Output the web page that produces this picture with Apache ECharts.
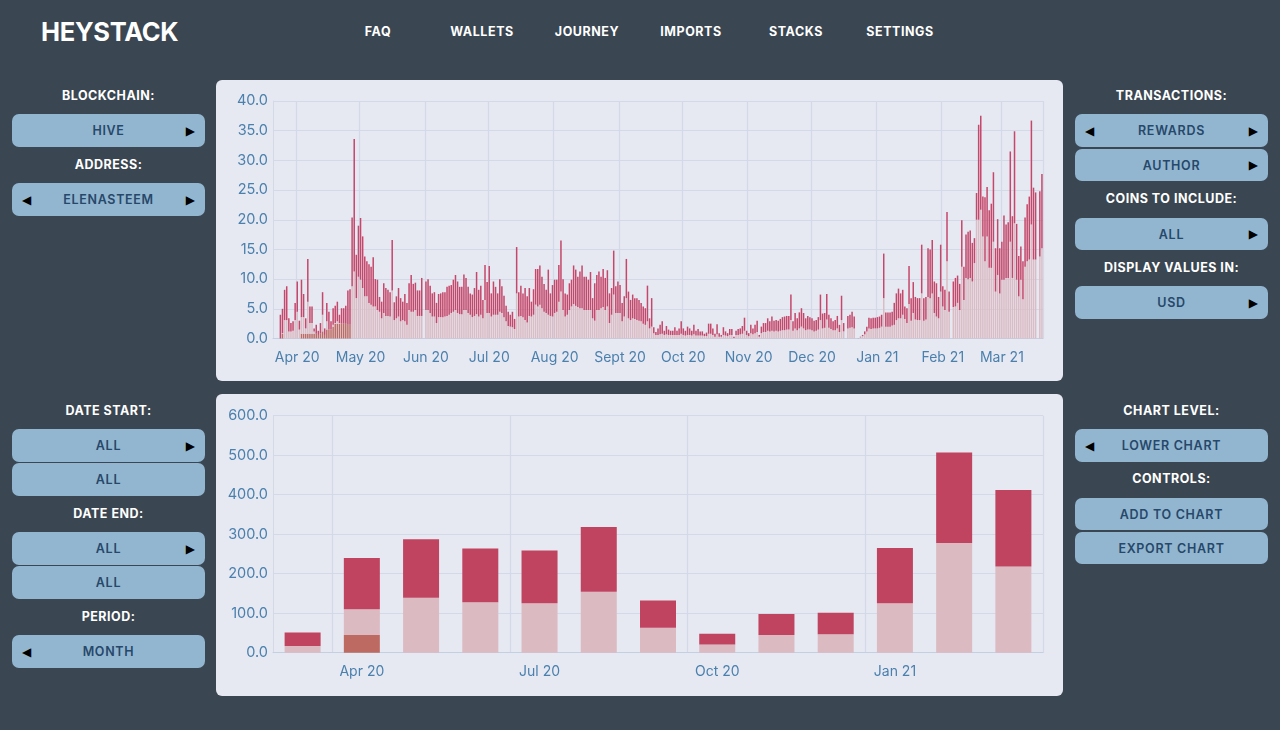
<!DOCTYPE html>
<html><head><meta charset="utf-8">
<script src="https://cdn.jsdelivr.net/npm/echarts@6/dist/echarts.min.js"></script>
<style>
html,body{margin:0;padding:0;width:1280px;height:730px;overflow:hidden;background:#3a4651;font-family:Inter,"Liberation Sans",sans-serif;}
.abs{position:absolute}
.logo{left:41px;top:16px;color:#fff;font-size:25.5px;font-weight:700;line-height:32px;letter-spacing:-.3px}
.nav{top:24px;color:#fff;font-size:12.5px;font-weight:700;line-height:16px;letter-spacing:.55px;transform:translateX(-50%)}
.lbl{color:#fff;font-size:12.5px;font-weight:700;line-height:16px;letter-spacing:.5px;text-align:center;width:193px}
.btn{width:193px;background:#93b6d0;border-radius:7px;color:#26486a;font-size:12.5px;font-weight:600;text-align:center;letter-spacing:.7px}
.arr{position:absolute;top:0;color:#000;font-family:"DejaVu Sans";font-size:12px;letter-spacing:0}
.card{left:216px;width:847px;background:#e6e8f2;border-radius:6px}
</style></head><body>
<div id="ui"></div>
<div class="abs card" id="c1" style="top:80px;height:301px"></div>
<div class="abs card" id="c2" style="top:394px;height:302px"></div>
<script>
var dailyTotal=[
null,null,null,4.0,5.0,8.2,8.8,3.4,2.6,2.9,
6,9.6,3,9.9,7.5,3.4,13.4,5.4,5.4,1.7,
2.3,1.3,2.6,7.8,1.7,6,4.5,2.9,5.1,5.5,
6.2,4,5.1,5.1,5.5,8.1,8.3,20.4,33.6,14.1,
19,20.3,17.2,13.8,13,12.5,12.1,13.7,10,9.9,
7,6.2,9.3,8.5,8.2,7.8,16.6,6.1,7.1,8.5,
6.8,6.2,7.5,6,9.3,10.7,9.2,9.4,8.1,8.1,
10.2,null,9.6,10,8.9,7.6,7.8,6,7.5,7.6,
7.8,7.8,8.7,8.9,9,9.9,10.7,9.6,8.7,8.7,
10.8,10.2,8.7,7.6,7.4,8.5,11.2,8.2,8.9,6.5,
12.4,9.5,12.2,7.6,9.6,8.7,7.6,10,8.8,7.2,
5.5,4.5,4,4.5,3.3,15.4,7.8,8.9,7.6,8.5,
7.1,8.5,6.2,8.3,11.7,11.7,12.3,10.4,9.2,8.2,
11.6,7.6,9,9.9,9.9,12.4,16.5,10,7.6,7.4,
9.3,9.9,12.3,11.6,10.4,11.3,12.3,10.4,10.4,9.9,
11.2,6.8,9.3,10.7,11.3,10.4,11.7,10.2,11.5,7.6,
8.5,14.8,8.8,9.6,9,6,7.1,13.4,7.9,6.5,
7.4,6.8,6.8,6.5,6,5.4,5.1,8.9,3.4,6.8,
1.9,1.1,1.7,2.3,2.9,1.3,2.1,1.5,1.3,1.3,
1.9,1.3,1.7,2.9,1.7,1.3,2,1.7,1.3,2.3,
1.3,1.6,1.2,1.2,.8,1,2.5,2.5,1.7,.8,
2.4,.9,.6,1.9,1.2,.9,1.6,1.6,.3,1.3,
1.6,1.7,2.1,3.5,1.3,.9,2.3,1.7,2.3,3,
.6,2,2.6,2.6,3.4,2.9,3.7,3,3.1,3,
3.3,3.6,3.7,3.8,3.8,7.4,2.9,4.3,3.4,4.4,
5.1,4.3,3.4,3.8,3.6,3.4,3,3.1,3.6,7.4,
4.2,4.3,7.5,4,3.4,2.9,3.1,3.8,2.3,7.2,
2.6,null,3.8,4,4.5,3.7,null,.05,.3,.6,
1.2,2,3.5,3.4,3.5,3.5,3.6,3.7,4,14.3,
4.4,4.4,4.4,4.5,6,7.6,8.4,7.6,8.2,5.4,
5.1,12.2,6.8,9.5,7,6.8,6.8,15.8,6.8,7,
15.2,15,16.6,9.6,9.3,7,15.8,8.8,8.2,21.3,
7.9,null,9.6,10.2,10.6,9.2,19.9,12.1,17.5,18,
18.2,16.1,16.9,24.5,36,37.5,23.9,23.8,25.5,21.6,
22.7,28,15.2,20.1,15.2,16.3,20.7,19.2,19.6,31.5,
20.6,34.9,19.3,13.9,15.5,13,20.4,22.6,23.9,36.7,
25.4,24.6,null,24.8,27.7];
var dailyBase=[
null,null,null,0,.9,3.1,3.1,1.2,1.2,1.3,
3.1,4.5,1.5,3.6,3.6,1.7,6.2,2.6,2.6,1.2,
.8,.6,.9,4,.6,2.9,1.5,1.5,2.3,2.6,
2.9,2.6,2.5,2.5,2.6,2.3,2.3,8.8,11.3,6.8,
10.4,9.9,8.5,7.1,7.1,6,5.7,5.4,5.4,4.8,
4.5,3.4,4.3,3.8,3.8,3.7,8.1,3.1,3.4,3.7,
2.9,3.1,2.9,2.3,4.8,4.5,4.5,4.8,3.8,3.8,
3.8,null,4.8,4.8,4.3,3.7,3.7,2.6,3.6,3.6,
3.6,3.7,3.8,4,4.3,4.5,4.8,4.3,4.1,4.1,
4.8,4.8,4.3,4,3.6,3.8,4.1,3.7,4,3.4,
6.5,4.3,4.3,3.7,4,4,4,4.5,4.3,3.6,
2.9,2.1,2,1.9,1.6,7.6,3.7,3.8,3.6,3.1,
2.7,3.8,3.7,4,5.7,5.4,5.7,5.1,4.5,4.3,
4,3.8,3.7,4.3,4.5,6.2,7.9,4.8,3.7,4,
4.8,5.4,5.8,5.5,5.3,5.1,5.1,4.8,4.8,4.8,
4.8,3.4,3,4.8,4.8,5.1,5.3,4.8,5.4,2.6,
4,7.4,4.3,4.3,4.3,2.9,3.7,6.8,3.4,3.1,
3.4,3.3,3.1,3,2.9,2.5,2.3,2.9,1.7,2,
.9,.6,.6,.7,.8,.6,.7,.6,.6,.6,
.6,.6,.6,.8,.6,.5,.6,.6,.5,.7,
.5,.5,.5,.5,.4,.4,.8,.8,.6,.3,
.7,.3,.3,.6,.5,.4,.6,.6,.1,.6,
.6,.7,.8,1.3,.6,.4,.9,.7,.9,1.1,
.3,.9,1.1,1.1,1.3,1.2,1.3,1.2,1.3,1.2,
1.3,1.4,1.4,1.5,1.5,3.1,1.3,1.7,1.4,1.7,
2,1.7,1.4,1.5,1.5,1.4,1.2,1.3,1.5,3.1,
1.7,1.8,3.2,1.8,1.6,1.4,1.4,1.7,1.1,3.1,
1.2,null,1.7,1.8,1.9,1.7,null,.03,.2,.4,
.7,1.2,1.7,1.6,1.7,1.7,1.7,1.8,2,6.8,
2,2,2,2.2,2.3,3.1,3.4,3.4,4,3.3,
2.6,5.8,3,4.3,3.2,3.1,3.1,7.6,3,3.2,
7,6.8,7.6,4.3,3.7,3.4,7.9,5.4,4.8,13,
4.5,null,5.3,5.4,6,4.8,12.1,6.5,10.2,10,
10.2,9.6,12.7,20,20,21.7,17.2,13,17.2,11.9,
11.9,16.3,7.9,10.7,7.6,9.9,9.9,10.2,10.2,16.3,
10.2,19.4,9.9,7.1,9.9,6.6,12.1,13,13.3,19.2,
13.3,13.3,null,13.8,15.2];
var dailyBrownStart=13;
var dailyBrown=[.8,.8,.8,.8,.8,.8,.8,.8,.6,.9,1.2,.6,1.5,1.5,1.5,2,2.5,2.5,2.5,2.5,2.5,2.6,2.3,2.3];
var dailyMonthStarts={11:'Apr 20',41:'May 20',72:'Jun 20',102:'Jul 20',133:'Aug 20',164:'Sept 20',194:'Oct 20',225:'Nov 20',255:'Dec 20',286:'Jan 21',317:'Feb 21',345:'Mar 21'};
var monthCats=['Mar 20','Apr 20','May 20','Jun 20','Jul 20','Aug 20','Sep 20','Oct 20','Nov 20','Dec 20','Jan 21','Feb 21','Mar 21'];
var monthBrown=[0,45,0,0,0,0,0,0,0,0,0,0,0];
var monthLight=[17,65,139,128,125,154,63,21,45,47,125,278,218];
var monthDark=[34,130,148,136,134,164,69,27,53,54,140,229,194];
var monthShown=['Apr 20','Jul 20','Oct 20','Jan 21'];
var yTop=[0,5,10,15,20,25,30,35,40];

var leftItems=[['l','BLOCKCHAIN:',88],['b','HIVE',114,33,0,1],['l','ADDRESS:',157],['b','ELENASTEEM',183,33,1,1],
['l','DATE START:',403],['b','ALL',429,33,0,1],['b','ALL',463,33,0,0],['l','DATE END:',506],['b','ALL',532,33,0,1],['b','ALL',566,33,0,0],['l','PERIOD:',609],['b','MONTH',635,33,1,0]];
var rightItems=[['l','TRANSACTIONS:',88],['b','REWARDS',114,33,1,1],['b','AUTHOR',149,32,0,1],['l','COINS TO INCLUDE:',191],['b','ALL',218,32,0,1],['l','DISPLAY VALUES IN:',260],['b','USD',286,33,0,1],
['l','CHART LEVEL:',403],['b','LOWER CHART',429,33,1,0],['l','CONTROLS:',471],['b','ADD TO CHART',498,32,0,0],['b','EXPORT CHART',532,32,0,0]];
var navItems=[['FAQ',378],['WALLETS',482],['JOURNEY',587],['IMPORTS',691],['STACKS',796],['SETTINGS',900]];
var html='<div class="abs logo">HEYSTACK</div>';
navItems.forEach(function(n){html+='<div class="abs nav" style="left:'+n[1]+'px">'+n[0]+'</div>';});
function side(items,x){items.forEach(function(it){
 if(it[0]=='l'){html+='<div class="abs lbl" style="left:'+x+'px;top:'+it[2]+'px">'+it[1]+'</div>';}
 else{html+='<div class="abs btn" style="left:'+x+'px;top:'+it[2]+'px;height:'+it[3]+'px;line-height:'+(it[3]+1)+'px">'+it[1]+
 (it[4]?'<span class="arr" style="left:10px">◀</span>':'')+(it[5]?'<span class="arr" style="right:10px">▶</span>':'')+'</div>';}
});}
side(leftItems,12);side(rightItems,1075);
document.getElementById('ui').innerHTML=html;

var gridC='#d3d9e7',axisC='#4a80ad',axisLine='#c3cfe3';
var cats=dailyTotal.map(function(_,i){return dailyMonthStarts[i]||String(i);});
var light=dailyBase.map(function(b,i){if(b===null)return null;var k=i-dailyBrownStart;var br=(k>=0&&k<dailyBrown.length)?dailyBrown[k]:0;return Math.max(b-br,0);});
var brown=dailyTotal.map(function(_,i){var k=i-dailyBrownStart;return (k>=0&&k<dailyBrown.length)?dailyBrown[k]:(i==4?.8:0);});
light[4]=0.1;
var dark=dailyTotal.map(function(t,i){return t===null?null:t-dailyBase[i];});
function isStart(i){return dailyMonthStarts[i]!==undefined;}
function yAxis(max,iv,w){return {type:'value',min:0,max:max,interval:iv,
 axisLine:{show:true,lineStyle:{color:gridC,width:1}},axisTick:{show:false},
 axisLabel:{color:axisC,fontSize:14.5,margin:5,fontFamily:'Inter',formatter:function(v){return v.toFixed(1);}},
 splitLine:{show:true,lineStyle:{color:gridC,width:1.2}}};}
var c1=echarts.init(document.getElementById('c1'),null,{renderer:'canvas'});
function barS(name,data,color,w){return {name:name,type:'bar',stack:'s',data:data,barWidth:w,itemStyle:{color:color},silent:true};}
c1.setOption({animation:false,backgroundColor:'transparent',
 grid:{left:57,right:20,top:21,bottom:42.5},
 xAxis:{type:'category',data:cats,boundaryGap:true,
  axisLine:{show:true,lineStyle:{color:axisLine,width:1}},axisTick:{show:false},
  axisLabel:{color:axisC,fontSize:14,margin:12,fontFamily:'Inter',interval:function(i){return isStart(i);},hideOverlap:false,formatter:function(v){return v;}},
  splitLine:{show:true,interval:function(i){return isStart(i);},lineStyle:{color:gridC,width:1.2}}},
 yAxis:yAxis(40,5),
 series:[barS('Other',brown,'#bd6b62',1.5),barS('Base',light,'#dcbcc4',1.5),barS('Rewards',dark,'#c5476a',1.5)]});
var c2=echarts.init(document.getElementById('c2'),null,{renderer:'canvas'});
c2.setOption({animation:false,backgroundColor:'transparent',
 grid:{left:57,right:20,top:21.7,bottom:43.3},
 xAxis:{type:'category',data:monthCats,boundaryGap:true,
  axisLine:{show:true,lineStyle:{color:axisLine,width:1}},axisTick:{show:false},
  axisLabel:{color:axisC,fontSize:14,margin:12,fontFamily:'Inter',interval:function(i,v){return monthShown.indexOf(v)>=0;}},
  splitLine:{show:true,interval:function(i){return monthShown.indexOf(monthCats[i])>=0;},lineStyle:{color:gridC,width:1.2}}},
 yAxis:yAxis(600,100),
 series:[barS('Other',monthBrown,'#bd6b62',36),barS('Base',monthLight,'#dcbac2',36),barS('Rewards',monthDark,'#c0435f',36)]});
</script></body></html>
